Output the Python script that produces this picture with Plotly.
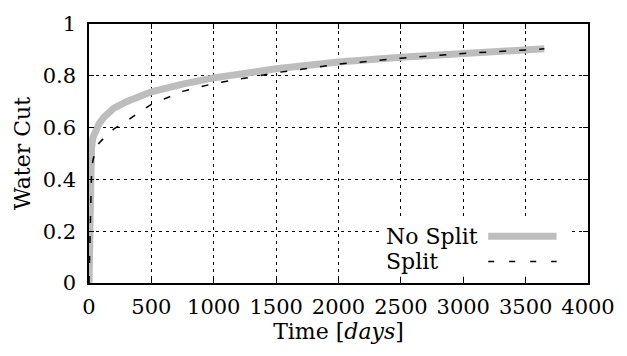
import plotly.graph_objects as go

# Data
t_nosplit = [0, 5, 10, 20, 30, 50, 80, 120, 200, 300, 500, 750, 1000, 1500, 2000, 2500, 3000, 3500, 3650]
wc_nosplit = [0, 0.2, 0.4, 0.52, 0.56, 0.59, 0.615, 0.64, 0.675, 0.70, 0.738, 0.768, 0.792, 0.827, 0.853, 0.872, 0.887, 0.90, 0.904]
t_split = [0, 5, 10, 20, 30, 50, 80, 120, 200, 300, 500, 750, 1000, 1500, 2000, 2500, 3000, 3500, 3650]
wc_split = [0, 0.1, 0.25, 0.42, 0.47, 0.51, 0.54, 0.56, 0.595, 0.625, 0.69, 0.74, 0.77, 0.812, 0.845, 0.868, 0.886, 0.90, 0.904]
x_ticks = [0, 500, 1000, 1500, 2000, 2500, 3000, 3500, 4000]
y_ticks = [0, 0.2, 0.4, 0.6, 0.8, 1]
y_ticklabels = ["0", "0.2", "0.4", "0.6", "0.8", "1"]
names = ["No Split", "Split"]

FONT = "DejaVu Serif"
FS = 22
TFS = 21
fig = go.Figure()
fig.add_trace(go.Scatter(x=t_nosplit, y=wc_nosplit, mode="lines", name=names[0],
                         line=dict(color="#bdbdbd", width=7), showlegend=False))
fig.add_trace(go.Scatter(x=t_split, y=wc_split, mode="lines", name=names[1],
                         line=dict(color="black", width=1.5, dash="7px,13px"), showlegend=False))

# legend box (white background hiding grid)
fig.add_shape(type="rect", xref="paper", yref="paper", x0=0.581, x1=0.963, y0=0.024, y1=0.244,
              fillcolor="white", line=dict(width=0), layer="above")
# legend samples
fig.add_shape(type="line", xref="paper", yref="paper", x0=0.80, x1=0.937, y0=0.1805, y1=0.1805,
              line=dict(color="#bdbdbd", width=7), layer="above")
fig.add_shape(type="line", xref="paper", yref="paper", x0=0.80, x1=0.937, y0=0.0827, y1=0.0827,
              line=dict(color="black", width=1.5, dash="6px,15px"), layer="above")
for name, yp in zip(names, [0.1805, 0.0827]):
    fig.add_annotation(xref="paper", yref="paper", x=0.5905, y=yp, text=name, showarrow=False,
                       xanchor="left", yanchor="middle",
                       font=dict(family=FONT, size=FS, color="black"))

fig.update_xaxes(range=[0, 4000], tickvals=x_ticks, ticktext=[str(v) for v in x_ticks],
                 tickfont=dict(family=FONT, size=TFS, color="black"),
                 title=dict(text="Time [<i>days</i>]", font=dict(family=FONT, size=FS, color="black"), standoff=0),
                 ticklabelstandoff=4,
                 showline=True, linecolor="black", linewidth=1.5, mirror="ticks",
                 ticks="inside", ticklen=5, tickcolor="black", tickwidth=1,
                 showgrid=True, gridcolor="black", gridwidth=1, griddash="3px,4px", zeroline=False)
fig.update_yaxes(range=[0, 1], tickvals=y_ticks, ticktext=y_ticklabels,
                 tickfont=dict(family=FONT, size=TFS, color="black"),
                 title=dict(text="Water Cut", font=dict(family=FONT, size=FS, color="black"), standoff=6),
                 ticklabelstandoff=7,
                 showline=True, linecolor="black", linewidth=1.5, mirror="ticks",
                 ticks="inside", ticklen=5, tickcolor="black", tickwidth=1,
                 showgrid=True, gridcolor="black", gridwidth=1, griddash="3px,4px", zeroline=False)
fig.update_layout(width=627, height=356, margin=dict(l=89, r=30, t=17, b=73),
                  font=dict(family=FONT, size=FS, color="black"),
                  plot_bgcolor="white", paper_bgcolor="white", showlegend=False)
fig.write_html("out.html")
